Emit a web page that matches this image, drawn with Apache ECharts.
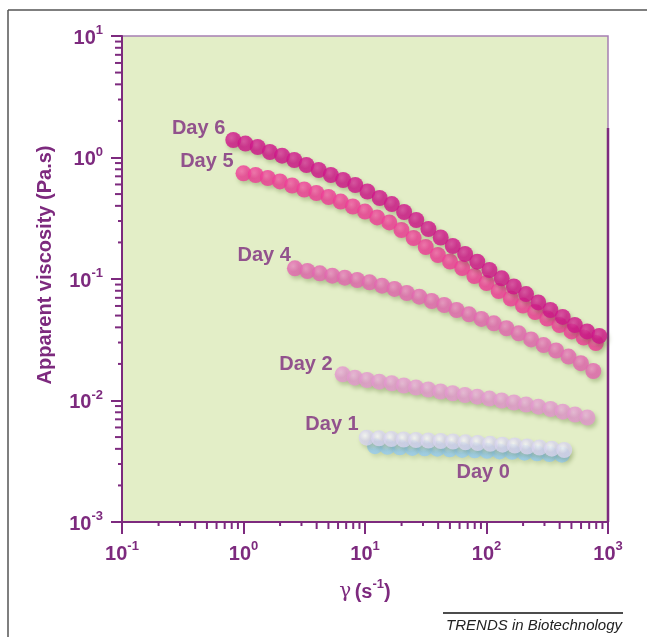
<!DOCTYPE html>
<html>
<head>
<meta charset="utf-8">
<script src="https://cdn.jsdelivr.net/npm/echarts@6/dist/echarts.min.js"></script>
<style>
html,body{margin:0;padding:0;background:#fff;}
#c{width:647px;height:637px;}
</style>
</head>
<body>
<div id="c"></div>
<script>
// ---- data ----
const seriesNames = ['Day 0', 'Day 1', 'Day 2', 'Day 4', 'Day 5', 'Day 6'];

const xDay6 = [0.824, 1.038, 1.309, 1.648, 2.078, 2.618, 3.296, 4.159, 5.236, 6.607, 8.318, 10.47, 13.21, 16.63, 20.99, 26.42, 33.27, 41.98, 52.84, 66.68, 83.95, 105.7, 133.4, 167.9, 211.8, 266.7, 335.7, 423.6, 533.3, 673.0, 847.2];
const yDay6 = [1.393, 1.303, 1.220, 1.110, 1.035, 0.954, 0.868, 0.789, 0.718, 0.653, 0.594, 0.525, 0.464, 0.414, 0.356, 0.306, 0.258, 0.2196, 0.1869, 0.1606, 0.1388, 0.1186, 0.1013, 0.0868, 0.0752, 0.0641, 0.0556, 0.0487, 0.0418, 0.0370, 0.0340];

const xDay5 = [1.0, 1.259, 1.585, 1.995, 2.512, 3.162, 3.981, 5.012, 6.310, 7.943, 10, 12.59, 15.85, 19.95, 25.12, 31.62, 39.81, 50.12, 63.10, 79.43, 100, 125.9, 158.5, 199.5, 251.2, 316.2, 398.1, 501.2, 631.0, 794.3];
const yDay5 = [0.741, 0.718, 0.678, 0.635, 0.588, 0.545, 0.510, 0.473, 0.434, 0.395, 0.359, 0.321, 0.292, 0.253, 0.2175, 0.1834, 0.1576, 0.1393, 0.1232, 0.1058, 0.0927, 0.0796, 0.0691, 0.0605, 0.0535, 0.0473, 0.0418, 0.0370, 0.0330, 0.0297];

const xDay4 = [2.65, 3.36, 4.25, 5.38, 6.82, 8.63, 10.9, 13.8, 17.5, 22.1, 28.0, 35.4, 44.9, 56.8, 71.8, 90.9, 115, 146, 184, 233, 295, 374, 473, 598, 757];
const yDay4 = [0.1225, 0.1164, 0.1114, 0.1065, 0.1025, 0.0981, 0.0939, 0.0881, 0.0828, 0.0767, 0.0715, 0.0659, 0.0611, 0.0556, 0.0512, 0.0469, 0.0432, 0.0393, 0.0357, 0.0318, 0.0286, 0.0258, 0.0230, 0.0203, 0.0175];

const xDay2 = [6.55, 8.26, 10.4, 13.1, 16.6, 20.9, 26.3, 33.2, 41.9, 52.7, 66.5, 83.9, 105.7, 133.4, 168.3, 211.8, 267.3, 337.3, 424.6, 535.8, 676.1];
const yDay2 = [0.01643, 0.01541, 0.01475, 0.01428, 0.01386, 0.01329, 0.01279, 0.01232, 0.01186, 0.01147, 0.01110, 0.01075, 0.01038, 0.01000, 0.00963, 0.00927, 0.00889, 0.00851, 0.00809, 0.00767, 0.00725];

const xDay1 = [10.33, 13.05, 16.48, 20.83, 26.30, 33.27, 42.07, 53.09, 67.14, 84.72, 107.2, 135.5, 171.0, 216.3, 272.9, 345.1, 436.5];
const yDay1 = [0.004941, 0.004885, 0.004820, 0.004775, 0.004730, 0.004686, 0.004642, 0.004598, 0.004529, 0.004469, 0.004402, 0.004327, 0.004262, 0.004182, 0.004104, 0.004011, 0.003914];

const xDay0 = [12.08, 15.31, 19.36, 24.55, 31.05, 39.36, 49.89, 63.10, 79.98, 101.2, 128.2, 162.6, 205.6, 260.6, 329.6, 417.8];
const yDay0 = [0.004210, 0.004155, 0.004124, 0.004070, 0.004040, 0.004016, 0.003971, 0.003920, 0.003896, 0.003860, 0.003808, 0.003779, 0.003723, 0.003680, 0.003624, 0.003583];

const xTickExponents = [-1, 0, 1, 2, 3];
const yTickExponents = [-3, -2, -1, 0, 1];
const minorMultipliers = [2, 3, 4, 5, 6, 7, 8, 9];

const xAxisTitle = 'γ (s-1)';
const yAxisTitle = 'Apparent viscosity (Pa.s)';
const sourceNote = 'TRENDS in Biotechnology';

// ---- styling ----
const PURPLE = '#7d2a7e';
const FONT = '"Liberation Sans", Arial, Helvetica, sans-serif';

function pow10(e) { return Math.pow(10, e); }
const X_MIN = pow10(xTickExponents[0]), X_MAX = pow10(xTickExponents[xTickExponents.length - 1]);
const Y_MIN = pow10(yTickExponents[0]), Y_MAX = pow10(yTickExponents[yTickExponents.length - 1]);

function expLabel(v) {
  const e = Math.round(Math.log10(v));
  return '{b|10}{s|' + e + '}';
}
const tickRich = {
  b: { fontSize: 20, fontWeight: 'bold', color: PURPLE, fontFamily: FONT, lineHeight: 24, verticalAlign: 'bottom' },
  s: { fontSize: 13, fontWeight: 'bold', color: PURPLE, fontFamily: FONT, lineHeight: 24, verticalAlign: 'top' }
};

function minorList(exps) {
  const out = [];
  for (let i = 0; i < exps.length - 1; i++) {
    minorMultipliers.forEach(m => out.push({ m: m, v: m * pow10(exps[i]) }));
  }
  return out;
}
const xMinor = minorList(xTickExponents);
const yMinor = minorList(yTickExponents);

function bead(base, light) {
  return {
    type: 'radial', x: 0.4, y: 0.38, r: 0.62,
    colorStops: [{ offset: 0, color: light }, { offset: 0.55, color: base }, { offset: 1, color: base }]
  };
}

const labelStyle = { color: PURPLE, fontSize: 20, fontWeight: 'bold', fontFamily: FONT };

function makeSeries(name, xs, ys, base, light, labelIdx, labelCfg, shadowAlpha) {
  const data = xs.map((x, i) => [x, ys[i]]);
  data[labelIdx] = {
    value: data[labelIdx],
    label: Object.assign({ show: true, formatter: name }, labelStyle, labelCfg)
  };
  return {
    name: name,
    type: 'scatter',
    data: data,
    symbol: 'circle',
    symbolSize: 16,
    itemStyle: {
      color: bead(base, light),
      shadowColor: 'rgba(75,105,35,' + shadowAlpha + ')',
      shadowBlur: 4,
      shadowOffsetX: 2,
      shadowOffsetY: 3
    },
    label: { show: false },
    emphasis: { disabled: true },
    silent: true
  };
}

const series = [
  makeSeries('Day 0', xDay0, yDay0, '#94caf0', '#c0e1f8', 9, { position: 'bottom', distance: 5, offset: [-4, -1] }, 0.22),
  makeSeries('Day 1', xDay1, yDay1, '#d8d4ef', '#fbfaff', 0, { position: 'left', distance: 0, offset: [0, -13] }, 0.3),
  makeSeries('Day 2', xDay2, yDay2, '#e497cf', '#eeb6df', 0, { position: 'left', distance: 2, offset: [0, -10] }, 0.38),
  makeSeries('Day 4', xDay4, yDay4, '#e466b1', '#ee8dc6', 0, { position: 'left', distance: 0, offset: [4, -13] }, 0.38),
  makeSeries('Day 5', xDay5, yDay5, '#f03a97', '#f862ad', 0, { position: 'left', distance: 2, offset: [0, -12] }, 0.38),
  makeSeries('Day 6', xDay6, yDay6, '#d0128a', '#dc3aa0', 0, { position: 'left', distance: 0, offset: [0, -12] }, 0.38)
];

// minor ticks on the log axes (at 2..9 x 10^n), drawn through the axis scales
series.push({
  type: 'custom',
  silent: true,
  clip: false,
  data: xMinor.map(t => [t.v, Y_MIN, t.m]),
  encode: { x: 0, y: 1 },
  renderItem: function (params, api) {
    const p = api.coord([api.value(0), Y_MIN]);
    const len = api.value(2) < 4 ? 4 : 7;
    return { type: 'line', shape: { x1: p[0], y1: p[1], x2: p[0], y2: p[1] + len }, style: { stroke: PURPLE, lineWidth: 2 } };
  }
});
series.push({
  type: 'custom',
  silent: true,
  clip: false,
  data: yMinor.map(t => [X_MIN, t.v, t.m]),
  encode: { x: 0, y: 1 },
  renderItem: function (params, api) {
    const p = api.coord([X_MIN, api.value(1)]);
    const len = api.value(2) < 4 ? 4 : 7;
    return { type: 'line', shape: { x1: p[0], y1: p[1], x2: p[0] - len, y2: p[1] }, style: { stroke: PURPLE, lineWidth: 2 } };
  }
});

const chart = echarts.init(document.getElementById('c'), null, { renderer: 'canvas' });
chart.setOption({
  animation: false,
  backgroundColor: '#ffffff',
  grid: {
    left: 122, right: 39, top: 36, bottom: 115,
    show: true,
    backgroundColor: '#e3eec7',
    borderColor: '#a67fb3',
    borderWidth: 1.5
  },
  xAxis: {
    type: 'log', logBase: 10, min: X_MIN, max: X_MAX,
    axisLine: { show: true, onZero: false, lineStyle: { color: PURPLE, width: 2 } },
    axisTick: { show: true, length: 12, lineStyle: { color: PURPLE, width: 2 } },
    minorTick: { show: false },
    splitLine: { show: false },
    axisLabel: { margin: 18, formatter: expLabel, rich: tickRich },
    name: '{g|γ} {b|(s}{s|-1}{b|)}',
    nameLocation: 'middle',
    nameGap: 56,
    nameTextStyle: {
      rich: {
        g: { fontSize: 20, fontFamily: '"DejaVu Serif", "Liberation Serif", serif', color: PURPLE, lineHeight: 24, verticalAlign: 'bottom' },
        b: { fontSize: 20, fontWeight: 'bold', fontFamily: FONT, color: PURPLE, lineHeight: 24, verticalAlign: 'bottom' },
        s: { fontSize: 13, fontWeight: 'bold', fontFamily: FONT, color: PURPLE, lineHeight: 24, verticalAlign: 'top' }
      }
    }
  },
  yAxis: {
    type: 'log', logBase: 10, min: Y_MIN, max: Y_MAX,
    axisLine: { show: true, onZero: false, lineStyle: { color: PURPLE, width: 2 } },
    axisTick: { show: true, length: 11, lineStyle: { color: PURPLE, width: 2 } },
    minorTick: { show: false },
    splitLine: { show: false },
    axisLabel: { margin: 19, formatter: expLabel, rich: tickRich }
  },
  graphic: [
    { type: 'line', shape: { x1: 8, y1: 10, x2: 647, y2: 10 }, style: { stroke: '#555', lineWidth: 1.5 }, silent: true },
    { type: 'line', shape: { x1: 8, y1: 10, x2: 8, y2: 637 }, style: { stroke: '#555', lineWidth: 1.5 }, silent: true },
    { type: 'line', shape: { x1: 608, y1: 128, x2: 608, y2: 522 }, style: { stroke: PURPLE, lineWidth: 2.5 }, silent: true },
    {
      type: 'text', x: 45, y: 265, rotation: Math.PI / 2,
      style: { text: yAxisTitle, fill: PURPLE, font: 'bold 20px ' + FONT, textAlign: 'center', textVerticalAlign: 'middle' },
      silent: true
    },
    { type: 'line', shape: { x1: 443, y1: 613, x2: 623, y2: 613 }, style: { stroke: '#111', lineWidth: 1.5 }, silent: true },
    {
      type: 'text', x: 622, y: 626,
      style: { text: sourceNote, fill: '#222', font: 'italic 15px ' + FONT, textAlign: 'right', textVerticalAlign: 'middle' },
      silent: true
    }
  ],
  series: series
});
</script>
</body>
</html>
